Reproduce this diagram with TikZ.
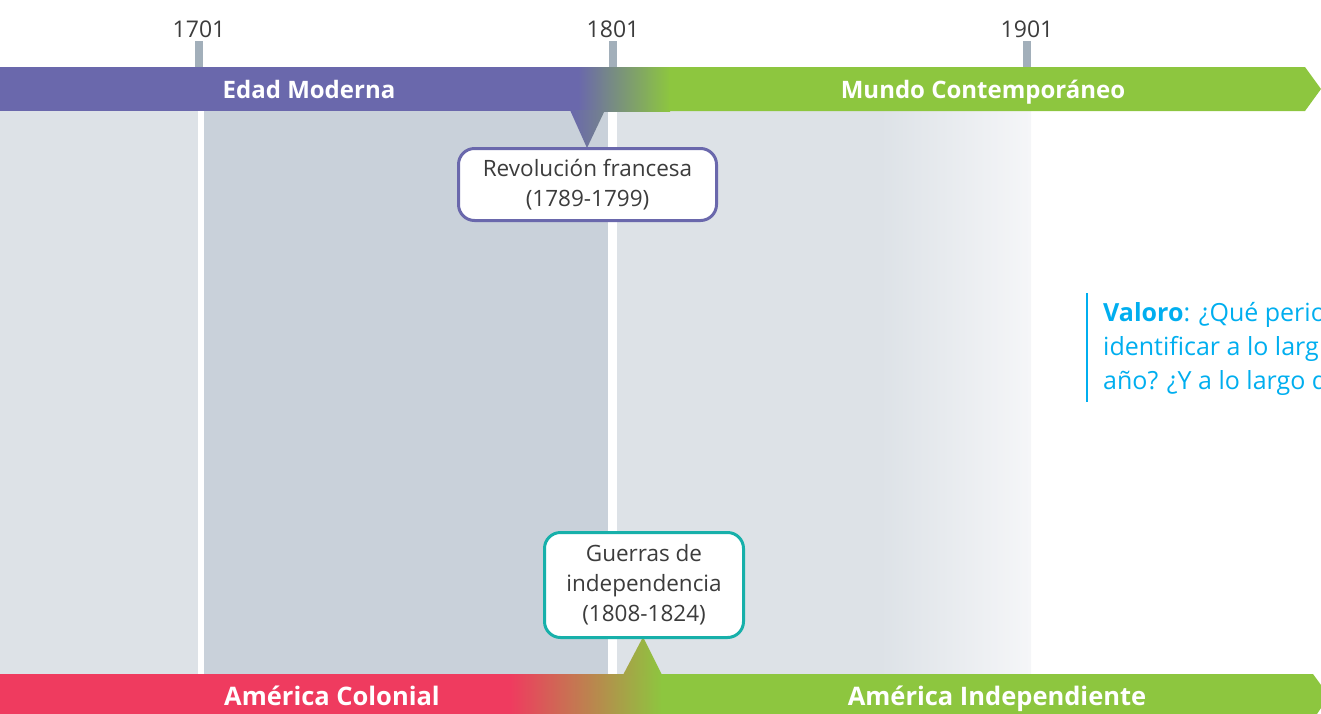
\documentclass[tikz,border=0pt]{standalone}
\usepackage{fontspec}
\setmainfont{Open Sans}
\definecolor{modpurple}{HTML}{6A68AC}
\definecolor{congreen}{HTML}{8DC63F}
\definecolor{colred}{HTML}{EF3B5F}
\definecolor{teal}{HTML}{17B0AA}
\definecolor{tickgray}{HTML}{A2AFBA}
\definecolor{yeargray}{HTML}{3C3C3C}
\definecolor{bandlight}{HTML}{DDE2E7}
\definecolor{banddark}{HTML}{C9D1DA}
\definecolor{bandfade}{HTML}{F5F6F8}
\definecolor{valblue}{HTML}{00AEEF}
\tikzset{
  yearlab/.style={font=\fontsize{23}{28}\selectfont, text=yeargray, anchor=base, inner sep=0pt},
  bandlab/.style={font=\bfseries\fontsize{24}{28}\selectfont, text=white, anchor=base, inner sep=0pt},
  bandlabbig/.style={bandlab, font=\bfseries\fontsize{25.5}{28}\selectfont},
  calloutbox/.style={draw, line width=3pt, rounded corners=16pt, fill=white, align=center,
    font=\fontsize{22.5}{30}\selectfont, text=yeargray, inner sep=0pt},
  valtext/.style={font=\fontsize{25}{30}\selectfont, text=valblue, anchor=base west, inner sep=0pt}
}
\begin{document}
\begin{tikzpicture}[x=1pt,y=-1pt]
\useasboundingbox (0,0) rectangle (1321,713);
\clip (0,0) rectangle (1321,713);
% background bands
\fill[bandlight] (0,111) rectangle (198,674);
\fill[banddark] (204,111) rectangle (608,674);
\fill[bandlight] (617,111) rectangle (881,674);
\shade[left color=bandlight, right color=bandfade] (880,111) rectangle (1031,674);
% top bar
\fill[modpurple] (0,67) rectangle (579,111);
\shade[left color=modpurple, right color=congreen] (578,67) rectangle (670,111);
\fill[congreen] (669,67) -- (1305,67) -- (1321,89) -- (1305,111) -- (669,111) -- cycle;
% bottom bar
\fill[colred] (0,674) rectangle (511,720);
\shade[left color=colred, right color=congreen] (510,674) rectangle (662,720);
\fill[congreen] (661,674) -- (1313,674) -- (1329,696) -- (1313,720) -- (661,720) -- cycle;
% ticks
\fill[tickgray] (195,41) rectangle (203,67);
\fill[tickgray] (609,41) rectangle (617,67);
\fill[tickgray] (1023,41) rectangle (1031,67);
% year labels
\node[yearlab] (y1701) at (199,37) {1701};
\node[yearlab] (y1801) at (613,37) {1801};
\node[yearlab] (y1901) at (1027,37) {1901};
% band labels
\node[bandlab] (edad) at (309,98) {Edad Moderna};
\node[bandlab] (mundo) at (983,98) {Mundo Contemporáneo};
\node[bandlabbig] (colonial) at (332,705) {América Colonial};
\node[bandlabbig] (indep) at (997,705) {América Independiente};
% callout pointers
\shade[left color=modpurple, right color=modpurple!71!congreen] (570,110) -- (605,110) -- (587,148) -- cycle;
\shade[left color=congreen!74!colred, right color=congreen] (623,675) -- (662,675) -- (643,637) -- cycle;
% callout boxes
\node[calloutbox, draw=modpurple, minimum width=258pt, minimum height=72pt] (revol) at (587.5,184.5)
  {Revolución francesa\\(1789-1799)};
\node[calloutbox, draw=teal, minimum width=199pt, minimum height=105pt] (guerras) at (644,585)
  {Guerras de\\independencia\\(1808-1824)};
% Valoro
\coordinate (vtop) at (1087,293);
\coordinate (vbot) at (1087,402);
\draw[valblue, line width=2pt] (vtop) -- (vbot);
\node[valtext] (val1) at (1103,321) {\textbf{Valoro}: ¿Qué perio};
\node[valtext] (val2) at (1103,355) {identificar a lo larg};
\node[valtext] (val3) at (1103,389) {año? ¿Y a lo largo d};
\end{tikzpicture}
\end{document}
